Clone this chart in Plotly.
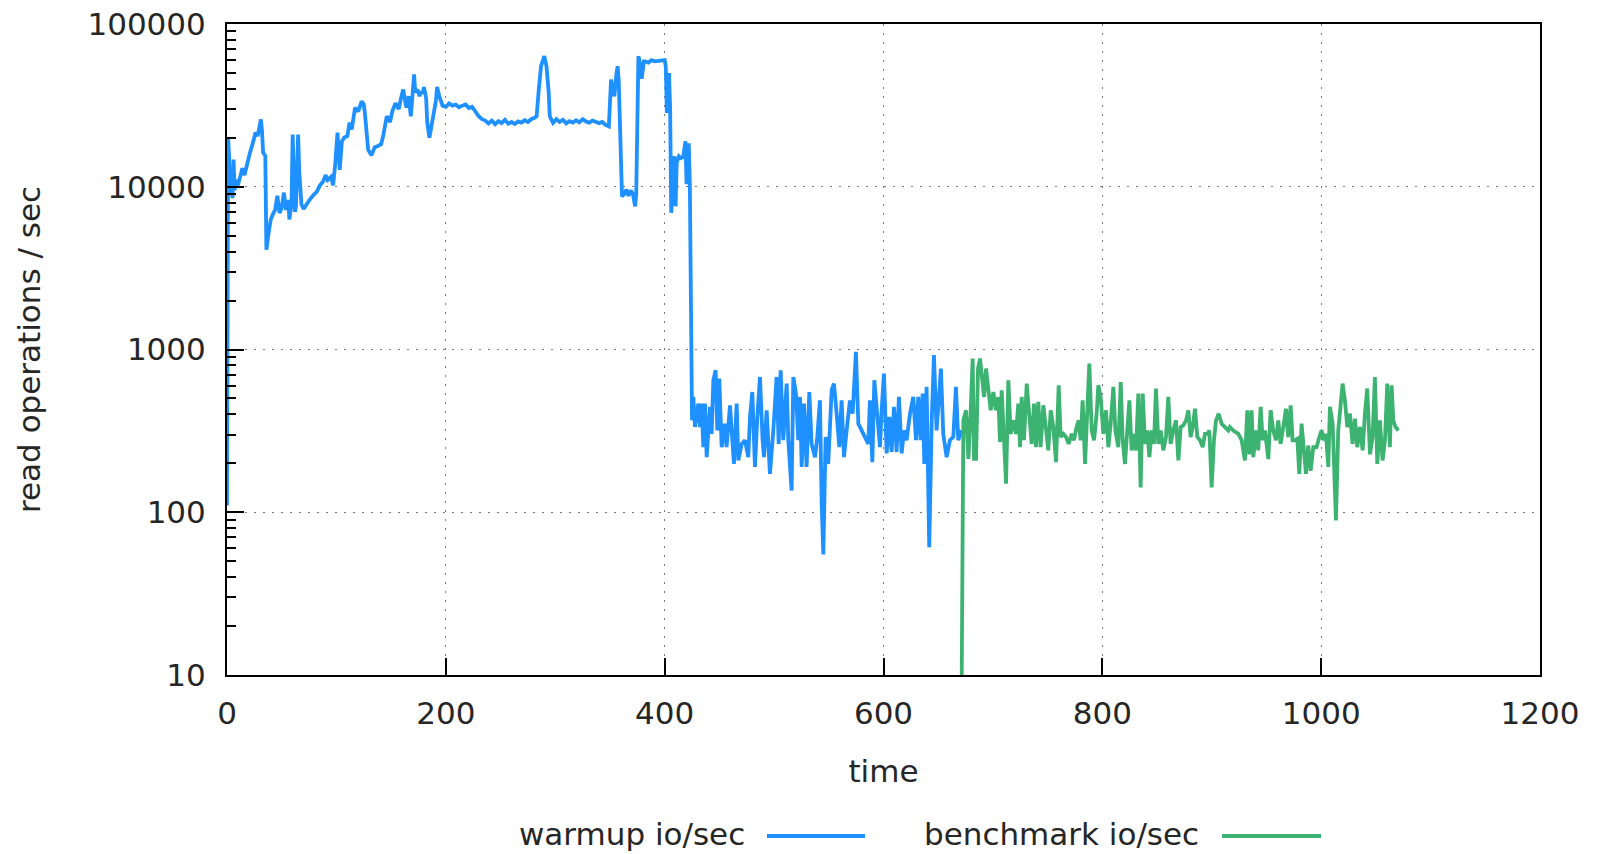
import plotly.graph_objects as go

# ---- data ----
warmup_time = [0, 1, 2, 3, 4, 5, 6, 7, 8, 10, 12, 14, 16, 18, 21, 24, 26, 28, 30, 31, 32, 33, 35, 36, 38, 40,
               42, 44, 46, 48, 50, 52, 54, 56, 57, 59, 60, 61, 62, 63, 65, 66, 68, 70, 73, 76, 79, 82, 85, 88,
               90, 92, 95, 97, 99, 101, 103, 105, 107, 110, 112, 114, 117, 120, 123, 125, 126, 128, 129, 132,
               135, 138, 141, 143, 146, 149, 151, 154, 157, 159, 161, 163, 164, 166, 168, 170, 171, 172, 174,
               176, 177, 179, 180, 182, 183, 185, 187, 189, 191, 192, 194, 197, 200, 203, 206, 209, 212, 215,
               218, 221, 224, 227, 230, 233, 236, 239, 242, 245, 248, 251, 254, 257, 260, 263, 266, 269, 272,
               275, 278, 281, 283, 285, 287, 290, 292, 294, 295, 298, 301, 304, 307, 310, 313, 316, 319, 322,
               325, 328, 331, 334, 337, 340, 343, 346, 349, 351, 353, 354, 356, 357, 358, 359, 361, 363, 365,
               367, 369, 371, 373, 374, 376, 378, 379, 381, 382, 385, 388, 391, 394, 397, 400, 401, 402, 403,
               404, 405, 406, 407, 408, 409, 410, 411, 413, 415, 417, 419, 420, 421, 422, 423, 425,
               426.2, 427.7, 430.8, 432.3, 433.8, 435.3, 436.8, 438.4, 441.4, 442.9, 444.5, 446.6, 448.1, 449.9,
               452.1, 455.1, 456.6, 459.7, 461.2, 463.3, 465.8, 467.3, 470.4, 473.4, 476.4, 478.0, 480.1, 482.5,
               484.7, 487.1, 489.5, 490.8, 493.2, 496.2, 499.3, 502.3, 504.2, 506.0, 508.4, 511.5, 513.0, 516.0,
               517.6, 520.0, 522.1, 523.7, 525.2, 527.3, 529.7, 532.2, 534.3, 537.4, 539.5, 541.9, 543.5, 545.0,
               547.1, 549.5, 552.6, 554.7, 557.2, 559.6, 561.7, 563.9, 566.3, 569.3, 571.8, 574.8, 577.0, 580.0,
               583.1, 586.1, 587.6, 589.8, 591.6, 593.7, 596.8, 598.3, 600.4, 602.9, 605.3, 607.4, 609.6, 612.0,
               614.1, 616.6, 618.7, 621.1, 624.2, 627.2, 629.7, 631.8, 633.9, 635.8, 637.3, 639.4, 641.8, 644.0,
               646.1, 648.5, 652.5, 654.6, 657.7, 660.7, 663.8, 666.2, 668.3, 671.4]
warmup_iops = [110, 20000, 15000, 9000, 12000, 8500, 14700, 9500, 11000, 10200, 11500, 13000, 11800, 13500, 16200,
               19000, 21500, 20500, 24000, 25900, 22000, 16200, 15500, 4100, 5200, 6300, 6800, 7200, 8800, 6900,
               7400, 9200, 7200, 8300, 6300, 8000, 20900, 12000, 7000, 7500, 20900, 12500, 7800, 7300, 7900, 8400,
               8900, 9300, 10200, 10800, 11800, 11000, 11500, 10200, 14000, 21500, 12700, 19000, 20000, 20500,
               24800, 22500, 30600, 29000, 33500, 32000, 28400, 20000, 16900, 15600, 17500, 17800, 18300, 21000,
               27100, 25000, 29000, 32600, 30000, 35000, 39600, 33000, 30600, 36000, 27100, 40000, 49000, 38000,
               39600, 36000, 37800, 38000, 41000, 35000, 24800, 20000, 24000, 30000, 34000, 41000, 36000, 31500,
               31000, 32500, 31500, 32000, 30800, 31500, 32000, 30500, 31000, 29000, 27100, 26000, 25500, 24500,
               25500, 24200, 25300, 24600, 25800, 24400, 25000, 24300, 25200, 24800, 25600, 25000, 26000, 26500,
               27100, 40000, 55000, 63400, 55000, 38000, 27100, 24700, 26000, 25000, 25800, 24500, 25300, 24800,
               25600, 24900, 26000, 25200, 24800, 25500, 25000, 24600, 25000, 24000, 23500, 45600, 38000, 36000,
               50000, 55000, 45000, 25800, 8730, 9000, 9600, 8800, 9500, 9000, 7580, 9000, 63400, 55000, 46000,
               59000, 59000, 58000, 60000, 59000, 59500, 60000, 60000, 55000, 28400, 40000, 50000, 30000, 6920,
               9000, 12000, 15400, 7580, 14000, 15400, 15000, 15400, 19000, 10400, 11000, 18500, 10500, 367,
               511, 334, 465, 334, 465, 251, 465, 218, 444, 303, 647, 746, 318, 663,
               251, 350, 251, 454, 318, 198, 465, 208, 263, 277, 218, 385, 548, 190,
               385, 678, 277, 218, 423, 172, 318, 678, 263, 746, 277, 617, 277, 136,
               678, 536, 277, 511, 190, 465, 190, 548, 263, 218, 290, 487, 112, 55,
               290, 198, 562, 617, 403, 251, 487, 218, 318, 487, 403, 967, 350, 318,
               290, 263, 487, 203, 647, 423, 251, 423, 711, 230, 385, 235, 444, 235,
               511, 230, 318, 277, 403, 511, 277, 511, 277, 536, 198, 589, 61, 350,
               923, 318, 764, 303, 218, 277, 290, 589, 277, 318]

bench_time = [671.5, 673.0, 675.4, 677.6, 679.7, 681.5, 682.7, 684.6, 686.4, 688.2, 690.0, 691.9, 693.7, 695.8,
              698.0, 700.4, 702.8, 704.9, 706.5, 708.0, 710.1, 712.0, 714.1, 716.2, 718.7, 721.1, 723.2, 724.8,
              726.3, 728.4, 730.9, 733.0, 735.4, 737.6, 739.4, 741.5, 743.6, 746.1, 748.5, 750.6, 752.8, 755.2,
              757.7, 760.1, 761.9, 764.4, 766.8, 769.2, 772.0, 774.1, 776.5, 778.4, 780.2, 782.0, 784.2, 786.3,
              788.1, 790.3, 792.4, 794.8, 796.3, 798.5, 800.9, 803.4, 805.5, 807.6, 810.1, 811.9, 814.6, 816.8,
              818.6, 820.7, 822.2, 824.7, 826.8, 828.9, 830.8, 832.9, 835.0, 836.9, 839.0, 841.1, 843.0, 845.1,
              847.2, 849.0, 851.2, 853.3, 855.7, 858.2, 860.3, 862.4, 864.9, 867.3, 869.5, 871.6, 874.0, 876.5,
              878.6, 880.7, 882.6, 884.7, 886.8, 889.3, 891.7, 893.8, 896.0, 897.8, 899.9, 902.0, 903.9, 906.3,
              909.0, 912.1, 915.1, 916.6, 919.7, 924.3, 927.3, 930.3, 932.5, 934.3, 936.4, 938.0, 940.4, 942.5,
              944.7, 946.5, 948.6, 951.7, 953.8, 956.2, 958.7, 960.8, 962.9, 965.4, 967.8, 969.9, 972.1, 973.9,
              976.0, 978.2, 980.0, 982.1, 984.3, 986.1, 988.2, 990.4, 992.8, 995.8, 998.3, 1000.4, 1002.5, 1004.4,
              1006.5, 1008.0, 1010.5, 1013.5, 1015.6, 1017.8, 1019.6, 1021.7, 1023.9, 1026.3, 1028.7, 1030.9,
              1033.0, 1035.4, 1037.9, 1040.0, 1042.1, 1044.6, 1047.0, 1049.1, 1051.3, 1053.7, 1056.1, 1058.3,
              1060.4, 1062.8, 1064.4, 1065.9, 1068.0, 1070.5]
bench_iops = [10, 367, 423, 213, 423, 880, 213, 213, 764, 880, 678, 511, 764, 562,
              423, 548, 423, 511, 270, 562, 303, 150, 647, 303, 367, 303, 465, 251,
              511, 277, 617, 403, 263, 465, 251, 476, 251, 454, 318, 240, 423, 334,
              203, 603, 290, 303, 290, 263, 303, 277, 334, 367, 277, 487, 198, 393,
              820, 318, 277, 403, 603, 511, 303, 423, 251, 350, 589, 318, 251, 631,
              277, 198, 303, 487, 240, 303, 240, 536, 142, 536, 263, 318, 218, 318,
              263, 576, 263, 318, 240, 290, 511, 263, 318, 367, 208, 334, 342, 367,
              423, 290, 334, 433, 290, 277, 251, 303, 303, 318, 142, 277, 367, 403,
              350, 334, 318, 334, 318, 303, 277, 208, 423, 227, 423, 218, 318, 240,
              444, 277, 318, 212, 423, 318, 277, 367, 263, 334, 433, 290, 454, 277,
              277, 283, 172, 350, 227, 172, 257, 180, 251, 251, 290, 318, 277, 303,
              190, 444, 350, 89, 318, 444, 617, 487, 334, 403, 263, 376,
              251, 334, 240, 403, 576, 227, 290, 678, 198, 367, 208, 277,
              617, 251, 603, 367, 334, 318]

x_ticks = [0, 200, 400, 600, 800, 1000, 1200]
y_ticks = [10, 100, 1000, 10000, 100000]
y_minor = [m * 10 ** k for k in range(1, 5) for m in range(2, 10)]

series_names = ["warmup io/sec", "benchmark io/sec"]
series_colors = ["#1E90FF", "#3CB371"]

FONT = "DejaVu Sans"
FS = 31
TXT = "#262626"

fig = go.Figure()
fig.add_trace(go.Scatter(x=warmup_time, y=warmup_iops, mode="lines", name=series_names[0],
                         line=dict(color=series_colors[0], width=3.8)))
fig.add_trace(go.Scatter(x=bench_time, y=bench_iops, mode="lines", name=series_names[1],
                         line=dict(color=series_colors[1], width=3.8)))

# page body margin is removed (post_script), so the figure fills the window
W, H = 1599, 854
L, R, T, B = 227, 59, 24, 179
pw, ph = W - L - R, H - T - B

fig.update_layout(
    width=W, height=H,
    margin=dict(l=L, r=R, t=T, b=B, autoexpand=False),
    paper_bgcolor="white", plot_bgcolor="white",
    showlegend=False,
    font=dict(family=FONT, size=FS, color=TXT),
)
fig.update_xaxes(
    range=[0, 1200], tickmode="array", tickvals=x_ticks, ticktext=[str(v) for v in x_ticks],
    ticks="inside", ticklen=17, tickwidth=2, tickcolor="black",
    showline=True, linecolor="black", linewidth=2, mirror=True,
    showgrid=True, gridcolor="#777777", gridwidth=1, griddash="2px,7px",
    zeroline=False, ticklabelstandoff=10, automargin=False, ticklabeloverflow="allow",
    title=dict(text="time", standoff=30, font=dict(size=FS)),
)
fig.update_yaxes(
    type="log", range=[1, 5], tickmode="array", tickvals=y_ticks, ticktext=[str(v) for v in y_ticks],
    ticks="inside", ticklen=17, tickwidth=2, tickcolor="black",
    minor=dict(ticks="inside", ticklen=9, tickwidth=1.5, tickcolor="black",
               tickmode="array", tickvals=y_minor, showgrid=False),
    showline=True, linecolor="black", linewidth=2, mirror=True,
    showgrid=True, gridcolor="#777777", gridwidth=1, griddash="2px,7px",
    zeroline=False, ticklabelstandoff=13, automargin=False, ticklabeloverflow="allow",
    title=dict(text="read operations / sec", standoff=38, font=dict(size=FS)),
)

# gnuplot-style key below the plot: text then line sample (positions in screen pixels)
def px2x(px):
    return (px - L) / pw

def py2y(py):
    return (H - B - py) / ph

key_items = [(747, 767, 865), (1201, 1222, 1321)]
for (txt_right, s0, s1), name, col in zip(key_items, series_names, series_colors):
    fig.add_annotation(x=px2x(txt_right), y=py2y(834), xref="paper", yref="paper", text=name,
                       showarrow=False, xanchor="right", yanchor="middle",
                       font=dict(family=FONT, size=FS, color=TXT))
    fig.add_shape(type="line", xref="paper", yref="paper", x0=px2x(s0), x1=px2x(s1),
                  y0=py2y(836), y1=py2y(836), line=dict(color=col, width=3.8))

fig.write_html("out.html", config={"displayModeBar": False},
               post_script="document.body.style.margin='0px';document.body.style.overflow='hidden';")
